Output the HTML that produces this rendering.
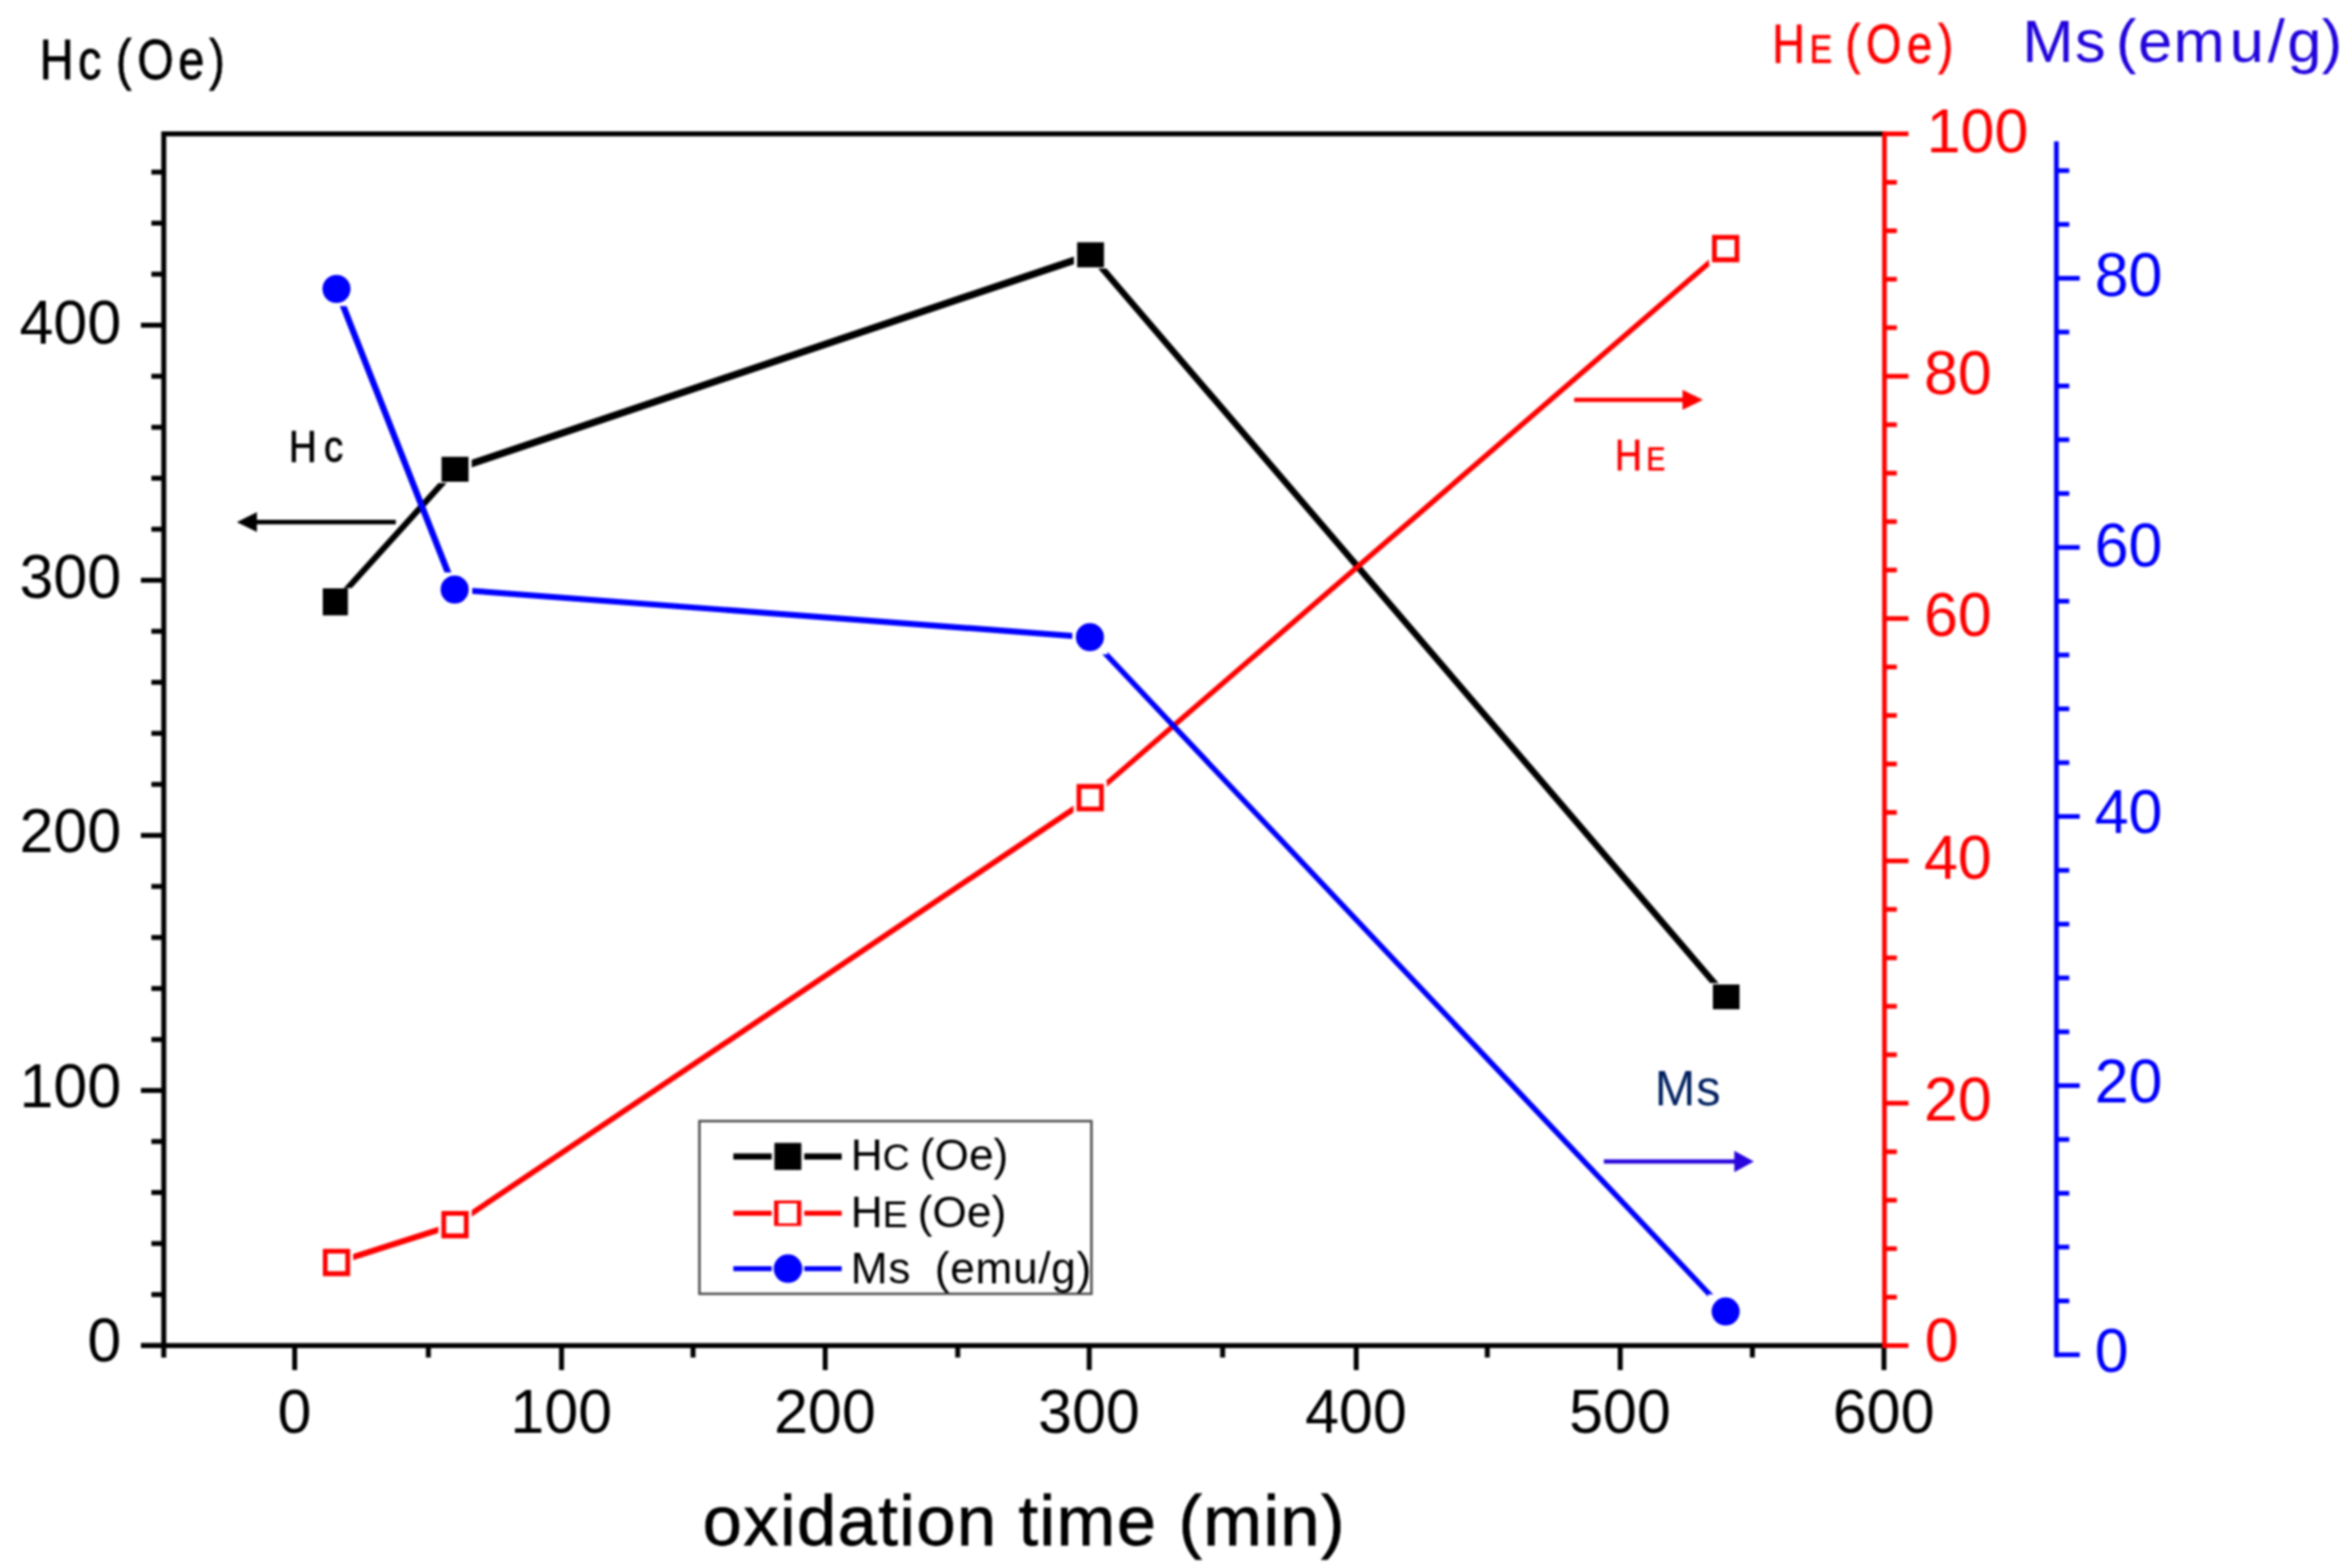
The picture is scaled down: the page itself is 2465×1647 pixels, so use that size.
<!DOCTYPE html>
<html lang="en"><head><meta charset="utf-8"><title>Hc, HE and Ms versus oxidation time</title>
<style>
html,body{margin:0;padding:0;background:#fff;}
body{width:2465px;height:1647px;overflow:hidden;}
svg{display:block;filter:blur(0.9px);}
svg text{font-family:"Liberation Sans",sans-serif;white-space:pre;}
</style></head><body>
<svg width="2465" height="1647" viewBox="0 0 2465 1647">
<rect width="2465" height="1647" fill="#fff"/>
<g stroke="#000000">
<line x1="352.2" y1="632.2" x2="477.9" y2="492.9" stroke-width="6.4"/>
<line x1="477.9" y1="492.9" x2="1145.4" y2="267.6" stroke-width="7.6"/>
<line x1="1145.4" y1="267.6" x2="1813.0" y2="1047.1" stroke-width="6.8"/>
</g>
<rect x="334.7" y="617.7" width="35.0" height="29.0" fill="#fff"/>
<rect x="460.4" y="478.4" width="35.0" height="29.0" fill="#fff"/>
<rect x="1127.9" y="253.1" width="35.0" height="29.0" fill="#fff"/>
<rect x="1795.5" y="1032.6" width="35.0" height="29.0" fill="#fff"/>
<rect x="339.0" y="618.0" width="26.4" height="28.4" fill="#000000"/>
<rect x="463.7" y="479.8" width="28.4" height="26.2" fill="#000000"/>
<rect x="1131.3" y="254.5" width="28.2" height="26.3" fill="#000000"/>
<rect x="1799.0" y="1034.1" width="28.0" height="26.0" fill="#000000"/>
<g stroke="#ff0000">
<line x1="353.4" y1="1326.0" x2="477.9" y2="1286.3" stroke-width="6.2"/>
<line x1="477.9" y1="1286.3" x2="1145.0" y2="838.0" stroke-width="5.8"/>
<line x1="1145.0" y1="838.0" x2="1812.4" y2="261.0" stroke-width="5.5"/>
</g>
<rect x="335.9" y="1308.5" width="35.0" height="35.0" fill="#fff"/>
<rect x="460.4" y="1268.8" width="35.0" height="35.0" fill="#fff"/>
<rect x="1127.5" y="820.5" width="35.0" height="35.0" fill="#fff"/>
<rect x="1794.9" y="243.5" width="35.0" height="35.0" fill="#fff"/>
<path fill-rule="evenodd" fill="#ff0000" d="M339.1 1311.7h28.6v28.7h-28.6zM344.0 1316.8h18.7v18.5h-18.7z"/>
<path fill-rule="evenodd" fill="#ff0000" d="M463.6 1272.0h28.6v28.7h-28.6zM468.5 1277.0h18.7v18.5h-18.7z"/>
<path fill-rule="evenodd" fill="#ff0000" d="M1130.7 823.6h28.6v28.7h-28.6zM1135.7 828.8h18.7v18.5h-18.7z"/>
<path fill-rule="evenodd" fill="#ff0000" d="M1798.1 246.7h28.6v28.7h-28.6zM1803.1 251.8h18.7v18.5h-18.7z"/>
<g stroke="#0000ff">
<line x1="353.4" y1="303.5" x2="477.5" y2="619.3" stroke-width="6.6"/>
<line x1="477.5" y1="619.3" x2="1144.7" y2="669.3" stroke-width="6.2"/>
<line x1="1144.7" y1="669.3" x2="1812.4" y2="1377.6" stroke-width="5.7"/>
</g>
<rect x="334.9" y="285.5" width="37.0" height="36.0" fill="#fff"/>
<rect x="459.0" y="601.3" width="37.0" height="36.0" fill="#fff"/>
<rect x="1126.2" y="651.3" width="37.0" height="36.0" fill="#fff"/>
<rect x="1793.9" y="1359.6" width="37.0" height="36.0" fill="#fff"/>
<circle cx="353.4" cy="303.5" r="14.75" fill="#0000ff"/>
<circle cx="477.5" cy="619.3" r="14.75" fill="#0000ff"/>
<circle cx="1144.7" cy="669.3" r="14.75" fill="#0000ff"/>
<circle cx="1812.4" cy="1377.6" r="14.75" fill="#0000ff"/>
<g stroke="#000000" stroke-width="5.2" fill="none">
<path d="M172.0 1425.9 V140.6 H1980.2"/>
<path d="M148 1413.4 H1979.2"/>
<path d="M148 1413.4 H172.0"/>
<path d="M159 1359.8 H172.0"/>
<path d="M159 1306.2 H172.0"/>
<path d="M159 1252.6 H172.0"/>
<path d="M159 1199.0 H172.0"/>
<path d="M148 1145.4 H172.0"/>
<path d="M159 1091.9 H172.0"/>
<path d="M159 1038.3 H172.0"/>
<path d="M159 984.7 H172.0"/>
<path d="M159 931.1 H172.0"/>
<path d="M148 877.5 H172.0"/>
<path d="M159 823.9 H172.0"/>
<path d="M159 770.3 H172.0"/>
<path d="M159 716.7 H172.0"/>
<path d="M159 663.1 H172.0"/>
<path d="M148 609.5 H172.0"/>
<path d="M159 555.9 H172.0"/>
<path d="M159 502.3 H172.0"/>
<path d="M159 448.8 H172.0"/>
<path d="M159 395.2 H172.0"/>
<path d="M148 341.6 H172.0"/>
<path d="M159 288.0 H172.0"/>
<path d="M159 234.4 H172.0"/>
<path d="M159 180.8 H172.0"/>
<path d="M309.5 1413.4 V1439.1"/>
<path d="M449.9 1413.4 V1425.9"/>
<path d="M589.8 1413.4 V1439.1"/>
<path d="M727.9 1413.4 V1425.9"/>
<path d="M866.7 1413.4 V1439.1"/>
<path d="M1005.9 1413.4 V1425.9"/>
<path d="M1144.0 1413.4 V1439.1"/>
<path d="M1284.1 1413.4 V1425.9"/>
<path d="M1424.4 1413.4 V1439.1"/>
<path d="M1562.1 1413.4 V1425.9"/>
<path d="M1701.7 1413.4 V1439.1"/>
<path d="M1840.5 1413.4 V1425.9"/>
<path d="M1978.7 1413.4 V1439.1"/>
</g>
<g stroke="#ff0000" stroke-width="4.9" fill="none">
<path d="M1979.2 138.2 V1416.0"/>
<path d="M1979.2 1413.4 H2004.4"/>
<path d="M1979.2 1362.5 H1992.2"/>
<path d="M1979.2 1311.6 H1992.2"/>
<path d="M1979.2 1260.7 H1992.2"/>
<path d="M1979.2 1209.8 H1992.2"/>
<path d="M1979.2 1158.8 H2004.4"/>
<path d="M1979.2 1107.9 H1992.2"/>
<path d="M1979.2 1057.0 H1992.2"/>
<path d="M1979.2 1006.1 H1992.2"/>
<path d="M1979.2 955.2 H1992.2"/>
<path d="M1979.2 904.3 H2004.4"/>
<path d="M1979.2 853.4 H1992.2"/>
<path d="M1979.2 802.5 H1992.2"/>
<path d="M1979.2 751.5 H1992.2"/>
<path d="M1979.2 700.6 H1992.2"/>
<path d="M1979.2 649.7 H2004.4"/>
<path d="M1979.2 598.8 H1992.2"/>
<path d="M1979.2 547.9 H1992.2"/>
<path d="M1979.2 497.0 H1992.2"/>
<path d="M1979.2 446.1 H1992.2"/>
<path d="M1979.2 395.2 H2004.4"/>
<path d="M1979.2 344.2 H1992.2"/>
<path d="M1979.2 293.3 H1992.2"/>
<path d="M1979.2 242.4 H1992.2"/>
<path d="M1979.2 191.5 H1992.2"/>
<path d="M1979.2 140.6 H2004.4"/>
</g>
<g stroke="#0000ff" stroke-width="4.9" fill="none">
<path d="M2159.8 148.5 V1425.5"/>
<path d="M2159.8 1423.0 H2184.3"/>
<path d="M2159.8 1366.5 H2173.3"/>
<path d="M2159.8 1309.9 H2173.3"/>
<path d="M2159.8 1253.4 H2173.3"/>
<path d="M2159.8 1196.9 H2173.3"/>
<path d="M2159.8 1140.3 H2184.3"/>
<path d="M2159.8 1083.8 H2173.3"/>
<path d="M2159.8 1027.2 H2173.3"/>
<path d="M2159.8 970.7 H2173.3"/>
<path d="M2159.8 914.2 H2173.3"/>
<path d="M2159.8 857.6 H2184.3"/>
<path d="M2159.8 801.1 H2173.3"/>
<path d="M2159.8 744.6 H2173.3"/>
<path d="M2159.8 688.0 H2173.3"/>
<path d="M2159.8 631.5 H2173.3"/>
<path d="M2159.8 575.0 H2184.3"/>
<path d="M2159.8 518.4 H2173.3"/>
<path d="M2159.8 461.9 H2173.3"/>
<path d="M2159.8 405.4 H2173.3"/>
<path d="M2159.8 348.8 H2173.3"/>
<path d="M2159.8 292.3 H2184.3"/>
<path d="M2159.8 235.7 H2173.3"/>
<path d="M2159.8 179.2 H2173.3"/>
</g>
<text x="127.3" y="1430.1" fill="#000000" font-size="64" text-anchor="end" >0</text>
<text x="127.3" y="1162.7" fill="#000000" font-size="64" text-anchor="end" >100</text>
<text x="127.3" y="895.4" fill="#000000" font-size="64" text-anchor="end" >200</text>
<text x="127.3" y="627.9" fill="#000000" font-size="64" text-anchor="end" >300</text>
<text x="127.3" y="361.0" fill="#000000" font-size="64" text-anchor="end" >400</text>
<text x="309.2" y="1504.5" fill="#000000" font-size="64" text-anchor="middle" >0</text>
<text x="589.5" y="1504.5" fill="#000000" font-size="64" text-anchor="middle" >100</text>
<text x="866.4" y="1504.5" fill="#000000" font-size="64" text-anchor="middle" >200</text>
<text x="1143.7" y="1504.5" fill="#000000" font-size="64" text-anchor="middle" >300</text>
<text x="1424.1" y="1504.5" fill="#000000" font-size="64" text-anchor="middle" >400</text>
<text x="1701.4" y="1504.5" fill="#000000" font-size="64" text-anchor="middle" >500</text>
<text x="1978.4" y="1504.5" fill="#000000" font-size="64" text-anchor="middle" >600</text>
<text x="2021.5" y="1430.4" fill="#ff0000" font-size="64" text-anchor="start" >0</text>
<text x="2020.7" y="1176.9" fill="#ff0000" font-size="64" text-anchor="start" >20</text>
<text x="2020.7" y="923.4" fill="#ff0000" font-size="64" text-anchor="start" >40</text>
<text x="2020.7" y="668.2" fill="#ff0000" font-size="64" text-anchor="start" >60</text>
<text x="2020.7" y="413.6" fill="#ff0000" font-size="64" text-anchor="start" >80</text>
<text x="2023.5" y="160.0" fill="#ff0000" font-size="64" text-anchor="start" >100</text>
<text x="2200.0" y="1440.6" fill="#0000ff" font-size="64" text-anchor="start" >0</text>
<text x="2200.0" y="1158.0" fill="#0000ff" font-size="64" text-anchor="start" >20</text>
<text x="2200.0" y="874.6" fill="#0000ff" font-size="64" text-anchor="start" >40</text>
<text x="2200.0" y="595.1" fill="#0000ff" font-size="64" text-anchor="start" >60</text>
<text x="2200.0" y="311.3" fill="#0000ff" font-size="64" text-anchor="start" >80</text>
<text x="738.0" y="1623.2" fill="#000000" font-size="74" text-anchor="start" letter-spacing="1.5" stroke="#000" stroke-width="0.8">oxidation time (min)</text>
<text transform="scale(0.84 1)" x="49.8 97.6 126.9 145.1 171.7 222.8 261.6" y="82.8" font-size="58.6" fill="#000000" stroke="#000000" stroke-width="0.8">Hc (Oe)</text>
<text transform="scale(0.84 1)" x="2215.8 2262.7 2290.7 2307.2 2333.0 2384.1 2423.3" y="65.6" font-size="57.0" fill="#ff0000" stroke="#ff0000" stroke-width="0.7">H<tspan font-size="42.0">E</tspan> (Oe)</text>
<text transform="scale(1.04 1)" x="2042.4 2095.4 2126.5 2136.9 2159.1 2195.0 2251.6 2290.1 2309.8 2344.8" y="64.8" font-size="62.2" fill="#2205dc">Ms (emu/g)</text>
<text transform="scale(0.86 1)" x="353.0 395.6" y="485.3" font-size="47" fill="#000000" stroke="#000000" stroke-width="0.8">Hc</text>
<text transform="scale(0.86 1)" x="1972.0 2010.7" y="494.3" font-size="46" fill="#ff0000" stroke="#ff0000" stroke-width="0.7">H<tspan font-size="34.5">E</tspan></text>
<text transform="scale(1.0 1)" x="1737.9 1781.4" y="1161.0" font-size="51" fill="#002060">Ms</text>
<line x1="415.7" y1="548.4" x2="265.6" y2="548.4" stroke="#000000" stroke-width="4.8" />
<path d="M248.8 548.4 L269.8 538.0 L269.8 558.8 Z" fill="#000000"/>
<line x1="1653.3" y1="420.0" x2="1771.4" y2="420.0" stroke="#ff0000" stroke-width="4.5" />
<path d="M1788.6 420.0 L1767.1 409.5 L1767.1 430.5 Z" fill="#ff0000"/>
<line x1="1684.5" y1="1220.0" x2="1825.6" y2="1220.0" stroke="#2a05dd" stroke-width="4.4" />
<path d="M1842.0 1220.0 L1821.5 1208.7 L1821.5 1231.3 Z" fill="#2a05dd"/>
<rect x="734.6" y="1177.6" width="411.7" height="181.4" fill="#fff" stroke="#484848" stroke-width="2.5"/>
<line x1="770.2" y1="1214.7" x2="810.5" y2="1214.7" stroke="#000000" stroke-width="6.6" />
<line x1="844.7" y1="1214.7" x2="884.0" y2="1214.7" stroke="#000000" stroke-width="6.6" />
<rect x="813.4" y="1200.5" width="28.2" height="28.4" fill="#000000"/>
<line x1="770.2" y1="1274.4" x2="810.5" y2="1274.4" stroke="#ff0000" stroke-width="5.3" />
<line x1="844.7" y1="1274.4" x2="884.0" y2="1274.4" stroke="#ff0000" stroke-width="5.3" />
<path fill-rule="evenodd" fill="#ff0000" d="M813.0 1261.1h28.6v26.7h-28.6zM817.6 1264.0h19.4v20.9h-19.4z"/>
<line x1="770.2" y1="1332.6" x2="810.5" y2="1332.6" stroke="#0000ff" stroke-width="5.3" />
<line x1="844.7" y1="1332.6" x2="884.0" y2="1332.6" stroke="#0000ff" stroke-width="5.3" />
<circle cx="827.6" cy="1332.6" r="15" fill="#0000ff"/>
<text x="893.5" y="1228.5" fill="#000" font-size="46.5" word-spacing="-2.5">H<tspan font-size="39.5">C</tspan> (Oe)</text>
<text x="893.5" y="1289.0" fill="#000" font-size="46.5" word-spacing="-2.5">H<tspan font-size="39.5">E</tspan> (Oe)</text>
<text x="893.5" y="1347.5" fill="#000" font-size="46.5" letter-spacing="0.7" word-spacing="-1.2" xml:space="preserve">Ms  (emu/g)</text>
</svg>
</body></html>
